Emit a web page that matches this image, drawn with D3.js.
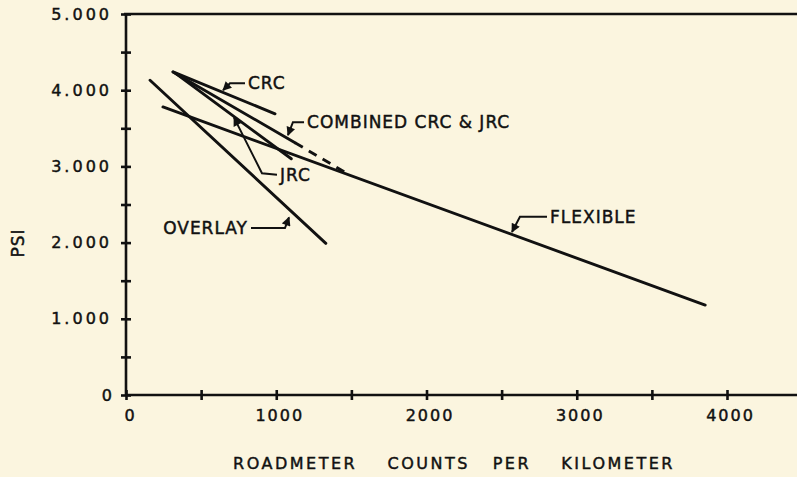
<!DOCTYPE html>
<html>
<head>
<meta charset="utf-8">
<script src="https://cdn.jsdelivr.net/npm/d3@7"></script>
<style>
  html, body { margin: 0; padding: 0; background: #fbf5df; }
  svg { display: block; font-family: "DejaVu Sans", sans-serif; }
  text { stroke: #111; stroke-width: 0.45px; }
</style>
</head>
<body>
<svg id="mychart"></svg>
<script>
const width = 797
const height = 477
const margin = ({top: 14, right: 0, bottom: 82, left: 126})

// lines, [counts per km, PSI]
const flexible = [[246, 3.78], [3855, 1.18]]
const overlay = [[160, 4.13], [1330, 1.99]]
const crc = [[313, 4.24], [992, 3.69]]
const jrc = [[330, 4.22], [1100, 3.10]]
const combined = [[313, 4.24], [1125, 3.31]]
const combinedExt = [[1125, 3.31], [1478, 2.90]]

const xTicks = [0, 500, 1000, 1500, 2000, 2500, 3000, 3500, 4000]
const xTickLabels = ["0", "1000", "2000", "3000", "4000"]
const yTicks = [0, 0.5, 1, 1.5, 2, 2.5, 3, 3.5, 4, 4.5, 5]
const yTickLabels = ["0", "1.000", "2.000", "3.000", "4.000", "5.000"]

// leader labels: arrow tip, elbow, text spot (data units)
const labels = [
  {text: "CRC", tip: [646, 4.00], elbow: [692, 4.09], at: [812, 4.09], anchor: "start"},
  {text: "COMBINED CRC & JRC", tip: [1078, 3.41], elbow: [1111, 3.58], at: [1205, 3.58], anchor: "start"},
  {text: "JRC", tip: [719, 3.64], elbow: [905, 2.91], at: [1025, 2.89], anchor: "start"},
  {text: "OVERLAY", tip: [1085, 2.33], elbow: [1058, 2.19], at: [812, 2.19], anchor: "end"},
  {text: "FLEXIBLE", tip: [2569, 2.14], elbow: [2622, 2.34], at: [2822, 2.34], anchor: "start"}
]

const x = d3.scaleLinear()
    .domain([0, 4000])
    .range([margin.left, 727])

const y = d3.scaleLinear()
    .domain([0, 5])
    .range([height - margin.bottom, margin.top])

const line = d3.line().x(d => x(d[0])).y(d => y(d[1]))

function chart() {
  const svg = d3.select('#mychart')
      .attr('width', width).attr('height', height)
      .attr('viewBox', [0, 0, width, height])

  svg.append("defs").append("marker")
      .attr("id", "arr")
      .attr("viewBox", "0 0 10 10")
      .attr("refX", 9).attr("refY", 5)
      .attr("markerWidth", 5).attr("markerHeight", 4.5)
      .attr("markerUnits", "strokeWidth")
      .attr("orient", "auto-start-reverse")
    .append("path")
      .attr("d", "M0,0 L10,5 L0,10 z")
      .attr("fill", "#111")

  // x axis, line runs out to the page edge
  svg.append("g")
      .attr("transform", `translate(0,${y(0)})`)
      .call(d3.axisBottom(x).tickValues(xTicks).tickSize(6).tickPadding(9)
        .tickFormat(d => d % 1000 === 0 ? xTickLabels[d / 1000] : ""))
      .call(g => g.select(".domain").attr("d", `M${x(0)},0H${width}`))
      .call(g => g.selectAll(".tick line").attr("y1", -5).attr("y2", 5))
      .call(g => g.selectAll(".tick text").attr("dx", 3))

  svg.append("g")
      .attr("transform", `translate(${x(0)},0)`)
      .call(d3.axisLeft(y).tickValues(yTicks).tickSize(6).tickPadding(8)
        .tickFormat(d => Number.isInteger(d) ? yTickLabels[d] : ""))
      .call(g => g.select(".domain").attr("d", `M0,${y(5)}V${y(0)}`))
      .call(g => g.selectAll(".tick line").attr("x1", -5).attr("x2", 5))

  svg.selectAll(".domain, .tick line")
      .attr("stroke", "#111").attr("stroke-width", 2.6)
  svg.selectAll(".tick text")
      .attr("fill", "#111")
      .attr("font-size", 16)
      .attr("font-family", "DejaVu Sans, sans-serif")
  svg.selectAll(".tick text").filter(function() { return this.textContent.includes(".") })
      .attr("letter-spacing", 3)
  svg.selectAll(".tick text").filter(function() { return this.textContent.length === 4 })
      .attr("letter-spacing", 2)

  // top frame line
  svg.append("line")
      .attr("x1", x(0) - 2).attr("x2", width)
      .attr("y1", y(5)).attr("y2", y(5))
      .attr("stroke", "#111").attr("stroke-width", 2.6)

  const g = svg.append("g")
      .attr("fill", "none")
      .attr("stroke", "#111")
      .attr("stroke-width", 2.9)
      .attr("stroke-linecap", "round")

  for (const d of [flexible, overlay, crc, jrc, combined]) {
    g.append("path").attr("d", line(d))
  }
  g.append("path")
      .attr("d", line(combinedExt))
      .attr("stroke-dasharray", "9 7")
      .attr("stroke-linecap", "butt")

  // leaders and labels
  const lab = svg.append("g")
  lab.selectAll("path")
    .data(labels)
    .join("path")
      .attr("d", d => line([d.tip, d.elbow, [d.at[0] + (d.anchor === "end" ? 1 : -1) * 3 / 0.15, d.at[1]]]))
      .attr("fill", "none")
      .attr("stroke", "#111")
      .attr("stroke-width", 2)
      .attr("marker-start", "url(#arr)")

  lab.selectAll("text")
    .data(labels)
    .join("text")
      .attr("x", d => x(d.at[0]))
      .attr("y", d => y(d.at[1]))
      .attr("dy", "0.36em")
      .attr("text-anchor", d => d.anchor)
      .attr("font-size", 17)
      .attr("letter-spacing", 1)
      .attr("fill", "#111")
      .text(d => d.text)

  svg.append("text")
      .attr("x", 454)
      .attr("y", 463)
      .attr("dy", "0.36em")
      .attr("text-anchor", "middle")
      .attr("font-size", 16)
      .attr("letter-spacing", 2.5)
      .attr("fill", "#111")
      .style("white-space", "pre")
      .text("ROADMETER    COUNTS   PER    KILOMETER")

  svg.append("text")
      .attr("transform", "translate(18,243) rotate(-90)")
      .attr("dy", "0.36em")
      .attr("text-anchor", "middle")
      .attr("font-size", 17)
      .attr("letter-spacing", 1)
      .attr("fill", "#111")
      .text("PSI")

  return svg.node()
}

chart()
</script>
</body>
</html>
